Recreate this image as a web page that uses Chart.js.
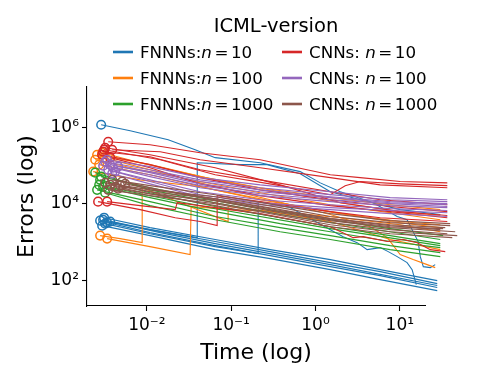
<!DOCTYPE html>
<html>
<head>
<meta charset="utf-8">
<script src="https://cdn.jsdelivr.net/npm/chart.js@4/dist/chart.umd.min.js"></script>
<style>
  html, body { margin: 0; padding: 0; background: #fff; }
</style>
</head>
<body>
<canvas id="errChart" width="480" height="384"></canvas>
<script>
// each run: [time (s), error] pairs, first point gets the circle marker
const fnn10Runs = [
  [[2.87e-3, 1.16e6], [6.34e-3, 8.1e5], [1.79e-2, 4.7e5], [3.74e-2, 2.58e5], [6.46e-2, 1.6e5], [0.221, 1.18e5], [0.659, 6.9e4], [1.14, 3.5e4], [1.97, 2.06e4], [4.84, 1.06e4], [9.31, 4.6e3], [12.2, 3.8e3], [16.5, 1.02e3], [17.5, 411], [19.0, 225], [23.0, 212], [26.3, 254]],
  [[3.03e-3, 3.8e3], [1.09e-2, 2.09e3], [3.96e-2, 1.29e3], [3.96e-2, 1.18e5], [0.128, 1.05e5], [0.267, 1.05e5], [0.659, 6.1e4], [1.50, 2.06e4], [3.39, 1.27e4], [10.1, 7.0e3], [30.2, 5.2e3]],
  [[3.2e-3, 3.0e3], [1.09e-2, 1.64e3], [6.46e-2, 752], [0.209, 493], [0.209, 1.13e4], [0.501, 7.9e3], [1.50, 2.09e3], [2.13, 1.37e3], [3.12, 955], [4.10, 627], [5.86, 708], [7.29, 556], [9.31, 411], [12.2, 287], [14.0, 188], [15.7, 76]],
  [[2.79e-3, 3.6e3], [1.09e-2, 2.09e3], [6.46e-2, 1.02e3], [0.29, 556], [1.50, 287], [5.86, 167], [27.8, 81]],
  [[3.11e-3, 4.3e3], [1.09e-2, 2.36e3], [6.46e-2, 1.15e3], [0.29, 627], [1.50, 344], [5.86, 188], [27.8, 97]],
  [[3.38e-3, 3.2e3], [1.09e-2, 1.75e3], [6.46e-2, 798], [0.29, 437], [1.50, 225], [5.86, 131], [27.8, 64]],
  [[2.95e-3, 2.66e3], [1.09e-2, 1.46e3], [6.46e-2, 627], [0.29, 365], [1.50, 188], [5.86, 103], [27.8, 53]],
  [[3.67e-3, 3.4e3], [1.44e-2, 1.75e3], [6.46e-2, 900], [1.50, 254], [27.8, 72]]
];
const fnn100Runs = [
  [[2.95e-3, 2.15e5], [8.34e-3, 1.18e5], [4.29e-2, 5.1e4], [0.221, 2.6e4], [1.50, 1.44e4], [7.69, 9.4e3], [30.2, 7.0e3]],
  [[2.44e-3, 1.41e5], [8.34e-3, 7.7e4], [4.29e-2, 3.8e4], [0.221, 1.94e4], [1.50, 9.4e3], [7.69, 5.8e3], [30.2, 3.8e3]],
  [[2.31e-3, 6.9e4], [8.34e-3, 4.2e4], [4.29e-2, 2.78e4], [0.221, 1.27e4], [1.50, 6.2e3], [7.69, 3.4e3], [30.2, 2.36e3]],
  [[3.03e-3, 1.6e5], [1.09e-2, 7.7e4], [4.29e-2, 3.5e4], [0.29, 1.27e4], [1.50, 5.2e3], [4.46, 2.5e3], [7.10, 1.29e3], [10.1, 465], [14.4, 344], [21.1, 254], [26.3, 212]],
  [[2.79e-3, 1.46e3], [4.82e-3, 1.22e3], [8.8e-3, 955], [8.8e-3, 2.6e4], [2.48e-2, 1.06e4], [9.2e-2, 3.4e3], [9.2e-2, 8.4e3], [0.29, 6.2e3], [1.50, 3.4e3], [7.69, 1.15e3], [30.2, 627]],
  [[3.38e-3, 1.22e3], [1.09e-2, 752], [3.26e-2, 465], [3.35e-2, 8.4e3], [9.7e-2, 7.0e3], [0.381, 6.2e3], [1.97, 4.3e3], [10.1, 2.8e3], [30.2, 1.85e3]],
  [[2.57e-3, 1.91e5], [1.09e-2, 1.05e5], [6.46e-2, 4.2e4], [0.381, 2.06e4], [1.97, 1.06e4], [10.1, 6.2e3], [30.2, 4.9e3]],
  [[2.72e-3, 1.05e5], [1.09e-2, 5.7e4], [6.46e-2, 2.3e4], [0.381, 1.06e4], [1.97, 5.5e3], [10.1, 3.4e3], [30.2, 2.8e3]]
];
const fnn1000Runs = [
  [[2.44e-3, 6.5e4], [1.09e-2, 2.3e4], [6.46e-2, 1.06e4], [0.381, 5.2e3], [1.50, 3.2e3], [7.69, 1.85e3], [30.2, 1.15e3]],
  [[2.79e-3, 4.2e4], [1.09e-2, 1.94e4], [6.46e-2, 8.4e3], [0.381, 4.3e3], [1.50, 2.5e3], [7.69, 1.46e3], [30.2, 900]],
  [[3.03e-3, 2.78e4], [1.09e-2, 1.44e4], [6.46e-2, 6.2e3], [0.381, 3.0e3], [1.50, 1.85e3], [7.69, 1.02e3], [30.2, 708]],
  [[2.57e-3, 2.3e4], [1.09e-2, 1.13e4], [6.46e-2, 4.6e3], [0.381, 2.36e3], [1.50, 1.46e3], [7.69, 798], [30.2, 524]],
  [[3.2e-3, 1.94e4], [1.09e-2, 8.9e3], [6.46e-2, 3.8e3], [0.381, 1.85e3], [1.50, 1.15e3], [7.69, 627], [30.2, 411]],
  [[2.72e-3, 3.1e4], [1.09e-2, 1.62e4], [6.46e-2, 7.4e3], [1.50, 2.22e3], [30.2, 798]],
  [[2.87e-3, 5.1e4], [1.09e-2, 2.6e4], [6.46e-2, 1.2e4], [0.381, 6.2e3], [1.50, 3.8e3], [7.69, 2.22e3], [32.7, 1.46e3]]
];
const cnn10Runs = [
  [[3.48e-3, 4.18e5], [1.09e-2, 3.49e5], [4.29e-2, 2.15e5], [0.221, 1.41e5], [1.50, 5.7e4], [3.39, 4.8e4], [10.1, 3.8e4], [36.6, 3.5e4]],
  [[3.88e-3, 2.58e5], [1.44e-2, 2.29e5], [4.29e-2, 1.41e5], [0.221, 8.7e4], [1.50, 4.8e4], [5.86, 3.1e4], [36.6, 2.6e4]],
  [[3.03e-3, 2.29e5], [1.09e-2, 1.69e5], [4.29e-2, 7.7e4], [0.221, 4.2e4], [1.50, 2.06e4], [5.86, 1.27e4], [36.6, 9.4e3]],
  [[2.95e-3, 1.91e5], [1.09e-2, 1.05e5], [4.29e-2, 4.8e4], [0.221, 2.3e4], [1.50, 1.27e4], [7.69, 8.4e3], [36.6, 6.2e3]],
  [[3.2e-3, 2.91e5], [1.09e-2, 1.91e5], [6.46e-2, 8.7e4], [0.381, 3.1e4], [1.97, 1.06e4], [10.1, 6.2e3], [36.6, 4.9e3]],
  [[2.64e-3, 1.13e4], [8.34e-3, 7.0e3], [2.17e-2, 4.3e3], [4.29e-2, 3.4e3], [6.82e-2, 2.66e3], [6.82e-2, 1.62e4], [0.221, 1.13e4], [1.50, 6.2e3], [5.86, 4.3e3], [36.6, 3.4e3]],
  [[3.38e-3, 1.13e4], [8.34e-3, 8.9e3], [2.17e-2, 7.0e3], [2.29e-2, 1.06e4], [6.46e-2, 7.9e3], [0.221, 5.5e3], [1.50, 2.5e3], [2.80, 1.29e3], [3.68, 1.37e3], [7.10, 1.02e3], [11.0, 1.15e3], [16.1, 955], [23.0, 627], [34.6, 556]],
  [[3.67e-3, 1.6e5], [1.09e-2, 8.7e4], [4.29e-2, 3.3e4], [0.221, 1.62e4], [1.50, 8.9e3], [7.69, 6.2e3], [36.6, 4.3e3]],
  [[3.11e-3, 2.58e5], [1.44e-2, 1.41e5], [6.46e-2, 5.7e4], [0.381, 2.96e4], [1.50, 1.72e4], [2.25, 2.96e4], [3.39, 3.8e4], [10.1, 3.3e4], [36.6, 2.96e4]]
];
const cnn100Runs = [
  [[3.2e-3, 1.25e5], [1.09e-2, 7.7e4], [4.29e-2, 4.2e4], [0.221, 2.6e4], [1.50, 1.72e4], [7.69, 1.27e4], [36.6, 1.13e4]],
  [[3.67e-3, 1.05e5], [1.09e-2, 6.5e4], [4.29e-2, 3.3e4], [0.221, 2.06e4], [1.50, 1.44e4], [7.69, 1.06e4], [36.6, 9.4e3]],
  [[3.98e-3, 8.7e4], [1.09e-2, 5.1e4], [4.29e-2, 2.6e4], [0.221, 1.62e4], [1.50, 1.13e4], [7.69, 8.9e3], [36.6, 7.9e3]],
  [[3.48e-3, 7.7e4], [1.09e-2, 4.2e4], [4.29e-2, 2.06e4], [0.221, 1.27e4], [1.50, 9.4e3], [7.69, 7.4e3], [36.6, 6.6e3]],
  [[4.21e-3, 6.9e4], [1.09e-2, 3.8e4], [4.29e-2, 1.72e4], [0.221, 1.06e4], [1.50, 7.9e3], [7.69, 6.6e3], [36.6, 5.8e3]],
  [[3.03e-3, 9.85e4], [1.09e-2, 5.7e4], [4.29e-2, 2.96e4], [0.221, 1.82e4], [1.50, 1.27e4], [7.69, 1.0e4], [36.6, 8.4e3]],
  [[3.38e-3, 1.41e5], [1.09e-2, 9.3e4], [4.29e-2, 4.8e4], [0.221, 3.1e4], [1.50, 2.06e4], [7.69, 1.44e4], [36.6, 1.27e4]],
  [[3.88e-3, 6.1e4], [1.09e-2, 3.3e4], [4.29e-2, 1.52e4], [0.221, 9.4e3], [1.50, 7.0e3], [7.69, 5.5e3], [36.6, 4.6e3]],
  [[4.57e-3, 9.3e4], [1.09e-2, 6.9e4], [4.29e-2, 3.8e4], [0.221, 2.3e4], [1.50, 1.52e4], [7.69, 1.13e4], [36.6, 1.0e4]]
];
const cnn1000Runs = [
  [[3.2e-3, 3.5e4], [1.09e-2, 2.3e4], [6.46e-2, 1.52e4], [0.381, 7.9e3], [1.50, 4.6e3], [7.69, 3.2e3], [39.6, 2.66e3]],
  [[3.67e-3, 3.1e4], [1.09e-2, 2.06e4], [6.46e-2, 1.35e4], [0.381, 6.6e3], [1.50, 4.06e3], [7.69, 2.8e3], [34.6, 2.36e3]],
  [[4.21e-3, 2.78e4], [1.09e-2, 1.82e4], [6.46e-2, 1.2e4], [0.381, 5.8e3], [1.50, 3.6e3], [7.69, 2.36e3], [45.4, 1.85e3]],
  [[4.82e-3, 2.96e4], [1.44e-2, 1.82e4], [6.46e-2, 1.06e4], [0.381, 5.2e3], [1.50, 3.2e3], [7.69, 2.09e3], [36.6, 1.64e3]],
  [[3.48e-3, 2.3e4], [1.09e-2, 1.62e4], [6.46e-2, 1.0e4], [0.381, 4.9e3], [1.50, 2.8e3], [7.69, 1.85e3], [48.0, 1.46e3]],
  [[5.09e-3, 3.8e4], [1.44e-2, 2.3e4], [6.46e-2, 1.35e4], [0.381, 7.0e3], [1.50, 4.06e3], [7.69, 2.66e3], [30.2, 2.09e3]],
  [[3.88e-3, 4.2e4], [1.09e-2, 2.96e4], [6.46e-2, 1.72e4], [0.381, 8.9e3], [1.50, 5.5e3], [7.69, 3.6e3], [39.6, 3.0e3]],
  [[4.57e-3, 2.47e4], [1.44e-2, 1.62e4], [6.46e-2, 8.9e3], [0.381, 4.3e3], [1.50, 2.5e3], [7.69, 1.64e3], [41.9, 1.29e3]],
  [[5.53e-3, 3.3e4], [1.44e-2, 2.19e4], [6.46e-2, 1.27e4], [0.381, 6.2e3], [1.50, 3.8e3], [7.69, 2.5e3], [32.7, 2.22e3]]
];

const groupNames = ["FNNNs:", "FNNNs:", "FNNNs:", "CNNs: ", "CNNs: ", "CNNs: "];
const groupSizes = ["10", "100", "1000", "10", "100", "1000"];
const groupColors = ["#1f77b4", "#ff7f0e", "#2ca02c", "#d62728", "#9467bd", "#8c564b"];

const xTickValues = [1e-2, 1e-1, 1, 10];
const yTickValues = [1e2, 1e4, 1e6];
const xLimits = [1.95e-3, 19.9];
const yLimits = [21, 1.13e7];

const FONT = "'DejaVu Sans'";
const SUP = { "-": "\u207b", "0": "\u2070", "1": "\u00b9", "2": "\u00b2", "3": "\u00b3", "4": "\u2074", "5": "\u2075", "6": "\u2076", "7": "\u2077", "8": "\u2078", "9": "\u2079" };
const pow10Label = v => "10" + String(Math.round(Math.log10(v))).split("").map(c => SUP[c]).join("");

const groups = [fnn10Runs, fnn100Runs, fnn1000Runs, cnn10Runs, cnn100Runs, cnn1000Runs];
const datasets = [];
groups.forEach((runs, g) => {
  runs.forEach(run => {
    datasets.push({
      label: groupNames[g] + "n = " + groupSizes[g],
      data: run.map(([t, e]) => ({ x: t, y: e })),
      showLine: true,
      borderColor: groupColors[g],
      borderWidth: 1.1,
      pointRadius: c => (c.dataIndex === 0 ? 4.3 : 0),
      pointHoverRadius: 0,
      pointBorderColor: groupColors[g],
      pointBackgroundColor: "rgba(0,0,0,0)",
      pointBorderWidth: 1.5,
      clip: false,
      order: -datasets.length // later runs on top, like the original plot order
    });
  });
});

// legend + title drawn by hand so the italic n can be mixed in
const legendBox = {
  id: "legendBox",
  afterDraw(chart) {
    const ctx = chart.ctx;
    ctx.save();
    ctx.fillStyle = "#000";
    ctx.textBaseline = "alphabetic";
    ctx.textAlign = "center";
    ctx.font = "19.5px " + FONT;
    ctx.fillText("ICML-version", 276, 31.5);
    ctx.textAlign = "left";
    groupNames.forEach((name, i) => {
      const col = i < 3 ? 0 : 1;
      const row = i % 3;
      const hx = col ? 282 : 113;
      const ty = 58 + row * 26;
      ctx.strokeStyle = groupColors[i];
      ctx.lineWidth = 2.6;
      ctx.beginPath();
      ctx.moveTo(hx, ty - 6);
      ctx.lineTo(hx + 20, ty - 6);
      ctx.stroke();
      let x = col ? 309 : 140;
      ctx.font = "16.7px " + FONT;
      ctx.fillText(name, x, ty);
      x += ctx.measureText(name).width;
      ctx.font = "italic 16.7px " + FONT;
      ctx.fillText("n", x, ty);
      x += ctx.measureText("n").width + 2.5;
      ctx.font = "16.7px " + FONT;
      ctx.fillText("=", x, ty);
      x += ctx.measureText("=").width + 2.5;
      ctx.fillText(groupSizes[i], x, ty);
    });
    ctx.restore();
  }
};

const axisCommon = {
  type: "logarithmic",
  bounds: "data",
  grid: { display: true, drawOnChartArea: false, drawTicks: true, tickLength: 5, tickColor: "#000", tickWidth: 1.1 },
  border: { display: true, color: "#000", width: 1.1 },
  ticks: { color: "#000", font: { family: "DejaVu Sans", size: 17 }, autoSkip: false, maxRotation: 0, callback: v => pow10Label(v) }
};

new Chart(document.getElementById("errChart"), {
  type: "scatter",
  data: { datasets },
  plugins: [legendBox],
  options: {
    responsive: false,
    animation: false,
    events: [],
    layout: { autoPadding: false, padding: { top: 87, right: 55, left: 0, bottom: 0 } },
    plugins: { legend: { display: false }, tooltip: { enabled: false } },
    scales: {
      x: {
        ...axisCommon,
        position: "bottom",
        ticks: { ...axisCommon.ticks, padding: 4 },
        afterBuildTicks: s => { s.min = xLimits[0]; s.max = xLimits[1]; s.ticks = xTickValues.map(v => ({ value: v })); },
        afterFit: s => { s.height = 78; },
        title: { display: true, text: "Time (log)", color: "#000", font: { family: "DejaVu Sans", size: 22 }, padding: { top: 0, bottom: 18 } }
      },
      y: {
        ...axisCommon,
        position: "left",
        ticks: { ...axisCommon.ticks, padding: 3 },
        afterBuildTicks: s => { s.min = yLimits[0]; s.max = yLimits[1]; s.ticks = yTickValues.map(v => ({ value: v })); },
        afterFit: s => { s.width = 87; },
        title: { display: true, text: "Errors (log)", color: "#000", font: { family: "DejaVu Sans", size: 22 }, padding: { top: 14, bottom: 0 } }
      }
    }
  }
});
</script>
</body>
</html>
